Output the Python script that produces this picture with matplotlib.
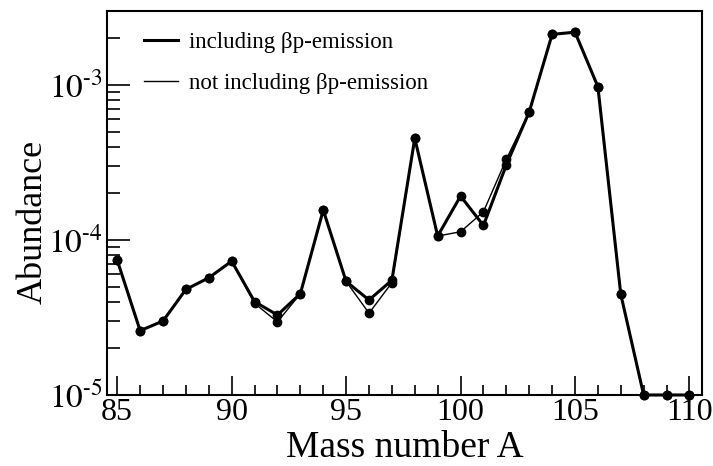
import matplotlib
matplotlib.use("Agg")
import matplotlib.pyplot as plt
from matplotlib.ticker import FixedLocator, MultipleLocator, LogLocator, NullFormatter

# mass numbers and abundances
mass = [85, 86, 87, 88, 89, 90, 91, 92, 93, 94, 95, 96, 97, 98, 99,
        100, 101, 102, 103, 104, 105, 106, 107, 108, 109, 110]
incl_bp = [7.4e-5, 2.6e-5, 3.0e-5, 4.8e-5, 5.7e-5, 7.3e-5, 4.0e-5, 3.28e-5, 4.5e-5, 1.56e-4,
           5.4e-5, 4.1e-5, 5.5e-5, 4.53e-4, 1.06e-4, 1.92e-4, 1.24e-4, 3.05e-4, 6.7e-4,
           2.12e-3, 2.19e-3, 9.75e-4, 4.47e-5, 1.0e-5, 1.0e-5, 1.0e-5]
no_bp = [7.4e-5, 2.6e-5, 3.0e-5, 4.8e-5, 5.7e-5, 7.3e-5, 3.9e-5, 2.96e-5, 4.5e-5, 1.56e-4,
         5.4e-5, 3.37e-5, 5.3e-5, 4.53e-4, 1.06e-4, 1.13e-4, 1.52e-4, 3.32e-4, 6.7e-4,
         2.12e-3, 2.19e-3, 9.75e-4, 4.47e-5, 1.0e-5, 1.0e-5, 1.0e-5]
x_ticks = [85, 90, 95, 100, 105, 110]
y_ticks = [1e-5, 1e-4, 1e-3]
y_labels = [r"$10^{\text{-5}}$", r"$10^{\text{-4}}$", r"$10^{\text{-3}}$"]

plt.rcParams.update({
    "font.family": "Liberation Serif",
    "mathtext.fontset": "stix",
    "axes.linewidth": 1.5,
})

fig = plt.figure(figsize=(7.13, 4.66), dpi=100)
ax = fig.add_axes([0.150, 0.1524, 0.8346, 0.824])

ax.plot(mass, incl_bp, color="black", lw=2.2, marker="o", ms=6,
        label="including βp-emission", clip_on=False, zorder=3)
ax.plot(mass, no_bp, color="black", lw=1.0, marker="o", ms=6,
        label="not including βp-emission", clip_on=False, zorder=3)

ax.set_yscale("log")
ax.set_xlim(84.55, 110.55)
ax.set_ylim(1e-5, 3e-3)

ax.xaxis.set_major_locator(FixedLocator(x_ticks))
ax.xaxis.set_minor_locator(MultipleLocator(1))
ax.yaxis.set_major_locator(FixedLocator(y_ticks))
ax.set_yticklabels(y_labels)
ax.yaxis.set_minor_locator(LogLocator(base=10, subs=range(2, 10)))
ax.yaxis.set_minor_formatter(NullFormatter())

ax.tick_params(axis="x", which="major", direction="in", length=13.5, width=1.2,
               labelsize=23, pad=2)
ax.tick_params(axis="x", which="minor", direction="in", length=7, width=1.2)
ax.tick_params(axis="y", which="major", direction="in", length=16.5, width=1.2,
               labelsize=24, pad=3)
ax.tick_params(axis="y", which="minor", direction="in", length=9, width=1.2)

ax.set_xlabel("Mass number A", fontsize=27, labelpad=3)
ax.set_ylabel("Abundance", fontsize=26)
ax.yaxis.set_label_coords(-0.096, 0.45)

ax.legend(loc="upper left", frameon=False, fontsize=16.5, handlelength=1.5,
          borderaxespad=0.5, labelspacing=0.9, bbox_to_anchor=(0.027, 1.0),
          markerscale=0, handletextpad=0.5)

fig.savefig("out.png", dpi=100)
